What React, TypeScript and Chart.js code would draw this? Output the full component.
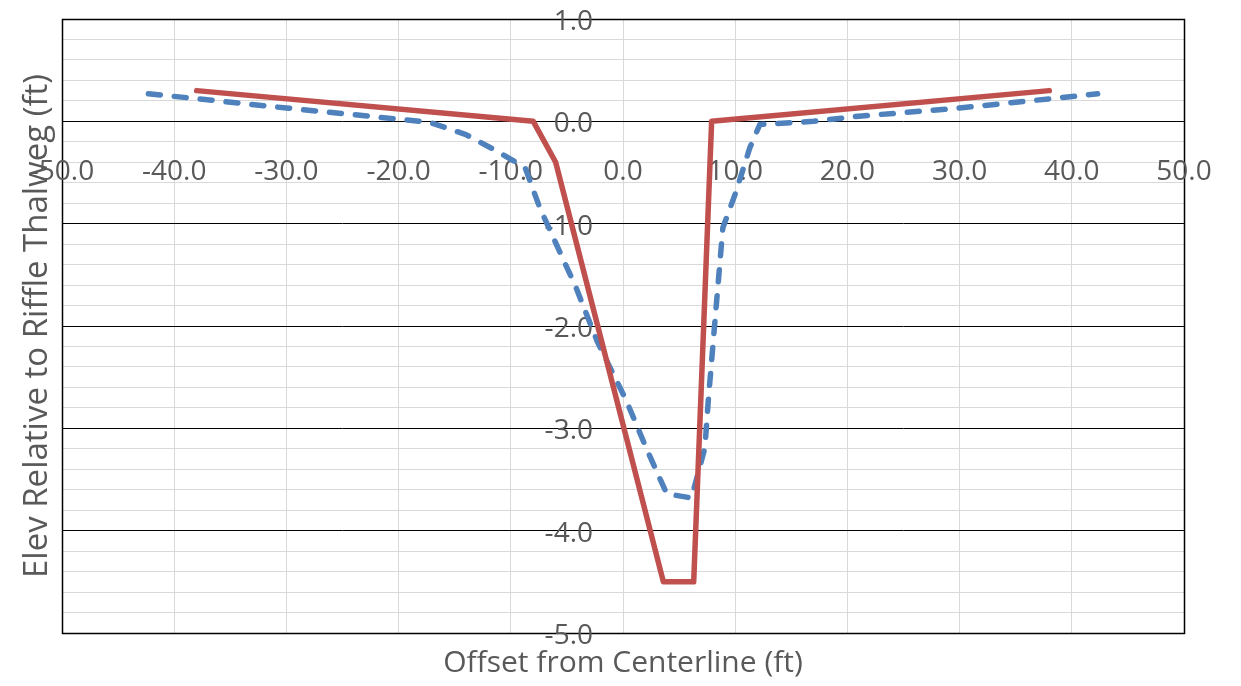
import React, { useEffect, useRef } from 'react';
import { Chart, registerables } from 'chart.js';

Chart.register(...registerables);

// Tick values shown where the axes cross at (0, 0)
const xTickValues = [-50, -40, -30, -20, -10, 0, 10, 20, 30, 40, 50];
const yTickValues = [1, 0, -1, -2, -3, -4, -5];

// Design riffle cross-section (solid red)
const designOffset = [-38, -8, -6, 3.6, 6.3, 7.9, 38];
const designElev = [0.3, 0, -0.4, -4.5, -4.5, 0, 0.3];

// Surveyed cross-section (dashed blue)
const surveyOffset = [
  -42.3, -30, -21.7, -17.2, -14, -11.6, -9.2, -8.7, -7.4, -4.2, -2.3, 0.3, 2.1, 3.9,
  6.1, 7.3, 7.6, 8.35, 8.9, 10.0, 11.3, 12.2, 17, 21, 30, 38.9, 42.3,
];
const surveyElev = [
  0.27, 0.13, 0.04, -0.01, -0.13, -0.27, -0.42, -0.46, -0.85, -1.62, -2.15, -2.73, -3.2, -3.64,
  -3.68, -3.19, -2.73, -1.75, -1.04, -0.71, -0.26, -0.03, 0.0, 0.05, 0.13, 0.23, 0.27,
];

const TEXT_FONT = '"Open Sans", "Noto Sans", sans-serif';
const TEXT_COLOR = '#595959';

const toPoints = (xs: number[], ys: number[]) => xs.map((x, i) => ({ x, y: ys[i] }));

// Draws the plot frame and the tick labels along the axes crossing at the origin.
const crossAxisLabels = {
  id: 'crossAxisLabels',
  beforeDatasetsDraw(chart: any) {
    const { ctx, chartArea, scales } = chart;
    const xs = scales.x;
    const ys = scales.y;
    ctx.save();
    ctx.strokeStyle = '#000000';
    ctx.lineWidth = 1.5;
    ctx.strokeRect(
      Math.round(chartArea.left) + 0.5,
      Math.round(chartArea.top) + 0.5,
      Math.round(chartArea.right - chartArea.left),
      Math.round(chartArea.bottom - chartArea.top)
    );

    ctx.font = `28px ${TEXT_FONT}`;
    ctx.fillStyle = TEXT_COLOR;
    const x0 = xs.getPixelForValue(0);
    const y0 = ys.getPixelForValue(0);

    ctx.textAlign = 'center';
    ctx.textBaseline = 'alphabetic';
    xTickValues.forEach((v) => {
      ctx.fillText(v.toFixed(1), xs.getPixelForValue(v), y0 + 59);
    });

    ctx.textAlign = 'right';
    yTickValues.forEach((v) => {
      ctx.fillText(v.toFixed(1), x0 - 30, ys.getPixelForValue(v) + 11);
    });
    ctx.restore();
  },
};

export default function App() {
  const canvasRef = useRef<HTMLCanvasElement | null>(null);

  useEffect(() => {
    if (!canvasRef.current) return;
    const chart = new Chart(canvasRef.current, {
      type: 'line',
      data: {
        datasets: [
          {
            label: 'Design',
            data: toPoints(designOffset, designElev),
            borderColor: '#C0504D',
            backgroundColor: '#C0504D',
            borderWidth: 5.5,
            borderCapStyle: 'round',
            borderJoinStyle: 'round',
            pointRadius: 0,
            tension: 0,
          },
          {
            label: 'Survey',
            data: toPoints(surveyOffset, surveyElev),
            borderColor: '#4F81BD',
            backgroundColor: '#4F81BD',
            borderWidth: 5.5,
            borderDash: [12, 14],
            borderCapStyle: 'round',
            borderJoinStyle: 'round',
            pointRadius: 0,
            tension: 0,
          },
        ],
      },
      options: {
        animation: false,
        responsive: true,
        maintainAspectRatio: false,
        layout: { padding: { top: 19, right: 57, bottom: 0, left: 0 } },
        plugins: {
          legend: { display: false },
          tooltip: { enabled: false },
        },
        scales: {
          x: {
            type: 'linear',
            position: 'bottom',
            min: -50,
            max: 50,
            ticks: { display: false, stepSize: 10 },
            grid: { color: '#d9d9d9', lineWidth: 1, drawTicks: false },
            border: { display: false },
            title: {
              display: true,
              text: 'Offset from Centerline (ft)',
              color: TEXT_COLOR,
              font: { family: TEXT_FONT, size: 30 },
              padding: { top: 0, bottom: 5 },
            },
            afterFit: (s: any) => {
              s.height = 53;
            },
          },
          y: {
            type: 'linear',
            position: 'left',
            min: -5,
            max: 1,
            ticks: { display: false, stepSize: 0.2 },
            grid: {
              drawTicks: false,
              lineWidth: 1,
              color: (c: any) => {
                const v = c.tick ? c.tick.value : 0;
                return Math.abs(v - Math.round(v)) < 1e-6 ? '#000000' : '#d9d9d9';
              },
            },
            border: { display: false },
            title: {
              display: true,
              text: 'Elev Relative to Riffle Thalweg (ft)',
              color: TEXT_COLOR,
              font: { family: TEXT_FONT, size: 33 },
              padding: { top: 18, bottom: 0 },
            },
            afterFit: (s: any) => {
              s.width = 62;
            },
          },
        },
      },
      plugins: [crossAxisLabels],
    });
    return () => chart.destroy();
  }, []);

  return (
    <div style={{ position: 'absolute', left: 0, top: 0, width: 1241, height: 686, background: '#ffffff' }}>
      <canvas ref={canvasRef} />
    </div>
  );
}
